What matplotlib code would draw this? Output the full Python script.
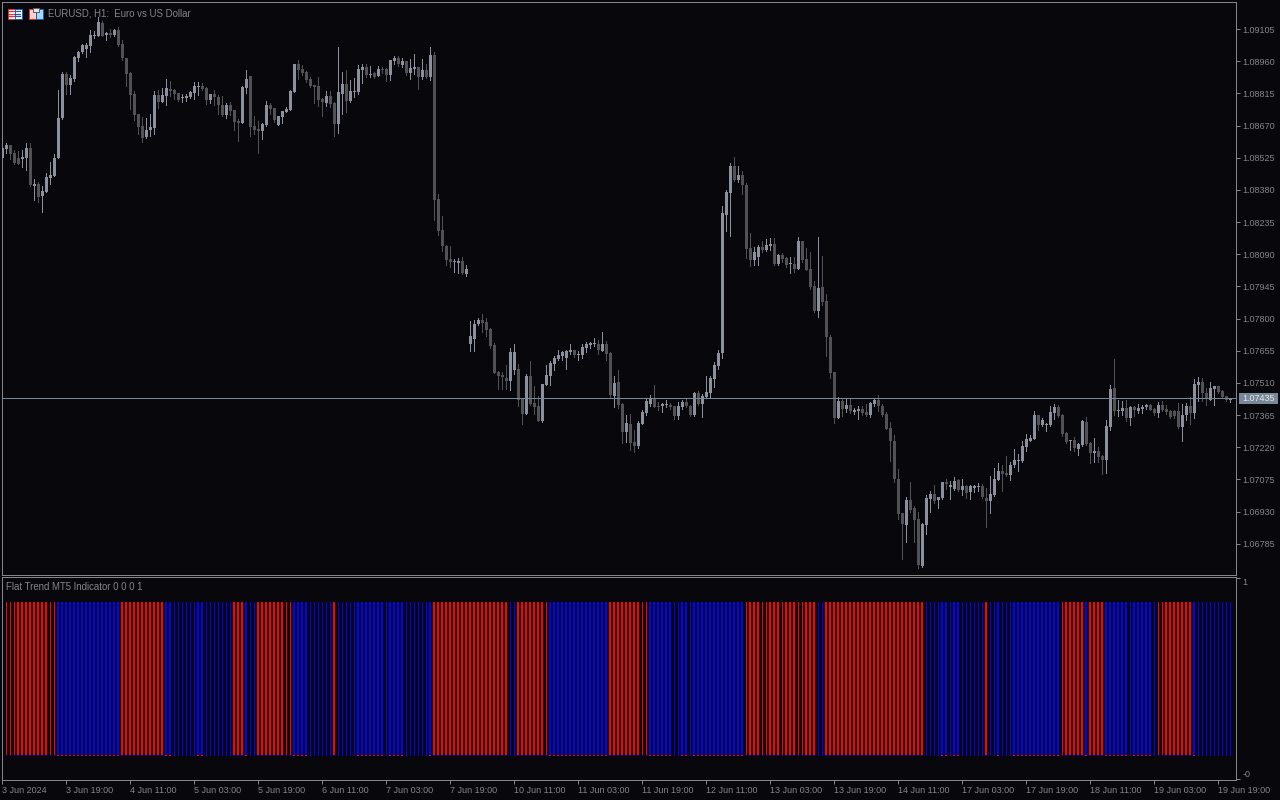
import numpy as np
import matplotlib
matplotlib.use("Agg")
import matplotlib.pyplot as plt
from matplotlib.patches import Rectangle

plt.rcParams['font.family'] = ['Liberation Sans', 'DejaVu Sans']

# H1 candles, in points above 1.06000
opens = [
    2524, 2564, 2582, 2546, 2524, 2519, 2524, 2569, 2398, 2407,
    2353, 2371, 2434, 2443, 2524, 2704, 2902, 2852, 2880, 2974,
    3001, 3014, 3028, 3073, 3073, 3132, 3080, 3085, 3078, 3100,
    3037, 2974, 2906, 2812, 2722, 2668, 2618, 2650, 2659, 2808,
    2776, 2803, 2834, 2830, 2816, 2794, 2794, 2798, 2816, 2844,
    2848, 2839, 2785, 2812, 2798, 2762, 2718, 2762, 2740, 2690,
    2682, 2839, 2893, 2668, 2654, 2646, 2672, 2762, 2749, 2672,
    2708, 2731, 2740, 2821, 2947, 2924, 2911, 2880, 2852, 2848,
    2788, 2770, 2802, 2770, 2676, 2811, 2856, 2780, 2820, 2820,
    2919, 2932, 2896, 2906, 2892, 2924, 2924, 2896, 2960, 2973,
    2942, 2960, 2906, 2924, 2932, 2888, 2919, 2888, 2986, 2338,
    2199, 2127, 2068, 2055, 2050, 2060, 2001, 1686, 1708, 1776,
    1794, 1785, 1754, 1682, 1560, 1546, 1533, 1520, 1569, 1574,
    1438, 1371, 1542, 1420, 1407, 1340, 1502, 1542, 1596, 1618,
    1632, 1623, 1650, 1659, 1636, 1636, 1668, 1682, 1686, 1686,
    1654, 1686, 1646, 1452, 1515, 1416, 1290, 1326, 1245, 1224,
    1325, 1374, 1415, 1438, 1406, 1406, 1410, 1410, 1406, 1361,
    1402, 1424, 1406, 1366, 1464, 1415, 1446, 1464, 1528, 1586,
    1644, 2266, 2364, 2486, 2423, 2446, 2400, 2117, 2063, 2076,
    2122, 2108, 2126, 2135, 2045, 2086, 2072, 2045, 2045, 2022,
    2148, 2068, 2022, 1946, 1834, 1942, 1878, 1716, 1559, 1352,
    1428, 1392, 1410, 1379, 1384, 1392, 1379, 1366, 1415, 1433,
    1406, 1370, 1307, 1248, 1078, 924, 870, 983, 947, 898,
    686, 870, 988, 1010, 983, 992, 1064, 1042, 1032, 1073,
    1027, 1045, 1018, 1036, 1040, 1045, 991, 978, 1004, 1072,
    1112, 1104, 1094, 1140, 1158, 1158, 1220, 1248, 1256, 1364,
    1320, 1320, 1320, 1374, 1400, 1364, 1284, 1248, 1252, 1212,
    1230, 1333, 1238, 1194, 1202, 1180, 1162, 1310, 1486, 1382,
    1382, 1396, 1351, 1400, 1382, 1392, 1400, 1410, 1392, 1374,
    1410, 1392, 1382, 1382, 1382, 1310, 1364, 1405, 1374, 1500,
    1513, 1464, 1432, 1482, 1495, 1472, 1450, 1432,
]
highs = [
    2568, 2590, 2582, 2561, 2555, 2561, 2590, 2590, 2430, 2414,
    2398, 2456, 2504, 2542, 2830, 2911, 2911, 2898, 2983, 3006,
    3037, 3040, 3100, 3096, 3158, 3140, 3091, 3104, 3104, 3112,
    3055, 2974, 2911, 2826, 2722, 2708, 2704, 2722, 2826, 2830,
    2839, 2880, 2870, 2834, 2816, 2812, 2812, 2826, 2866, 2866,
    2862, 2844, 2812, 2830, 2808, 2803, 2772, 2776, 2740, 2700,
    2848, 2920, 2893, 2713, 2690, 2682, 2780, 2772, 2749, 2713,
    2736, 2754, 2830, 2947, 2965, 2942, 2916, 2888, 2852, 2888,
    2793, 2824, 2824, 2775, 3022, 2910, 2919, 2874, 2883, 2942,
    2946, 2946, 2937, 2910, 2937, 2932, 2928, 2964, 2982, 2982,
    2973, 2960, 2968, 2991, 2932, 2968, 2946, 3022, 3000, 2361,
    2262, 2132, 2127, 2068, 2073, 2078, 2042, 1790, 1794, 1803,
    1821, 1803, 1758, 1690, 1564, 1560, 1592, 1668, 1686, 1596,
    1443, 1551, 1610, 1497, 1452, 1506, 1592, 1610, 1632, 1659,
    1654, 1659, 1686, 1659, 1654, 1686, 1695, 1695, 1713, 1704,
    1740, 1700, 1650, 1542, 1569, 1420, 1366, 1371, 1299, 1340,
    1388, 1438, 1456, 1500, 1424, 1420, 1433, 1420, 1406, 1424,
    1433, 1438, 1410, 1469, 1474, 1460, 1541, 1541, 1604, 1658,
    2306, 2378, 2500, 2526, 2486, 2464, 2410, 2184, 2122, 2130,
    2148, 2158, 2162, 2162, 2090, 2094, 2076, 2076, 2076, 2166,
    2148, 2117, 2099, 1968, 2166, 2081, 1910, 1726, 1559, 1446,
    1438, 1438, 1438, 1397, 1406, 1406, 1415, 1424, 1442, 1456,
    1415, 1379, 1334, 1276, 1122, 924, 996, 1064, 956, 929,
    880, 1006, 1024, 1050, 996, 1064, 1078, 1068, 1086, 1078,
    1076, 1050, 1050, 1050, 1058, 1054, 1036, 1090, 1126, 1148,
    1140, 1180, 1153, 1212, 1189, 1248, 1279, 1274, 1382, 1364,
    1351, 1328, 1405, 1414, 1410, 1369, 1288, 1252, 1266, 1238,
    1342, 1356, 1243, 1261, 1220, 1184, 1342, 1500, 1616, 1432,
    1428, 1432, 1405, 1405, 1414, 1410, 1414, 1414, 1396, 1423,
    1428, 1410, 1387, 1387, 1418, 1414, 1418, 1446, 1526, 1536,
    1531, 1486, 1513, 1495, 1495, 1477, 1450, 1441,
]
lows = [
    2524, 2548, 2519, 2498, 2498, 2485, 2470, 2399, 2335, 2326,
    2281, 2371, 2407, 2443, 2524, 2701, 2812, 2812, 2870, 2960,
    2998, 2978, 3002, 3064, 3073, 3073, 3055, 3068, 3072, 3028,
    2965, 2848, 2744, 2695, 2632, 2596, 2614, 2623, 2632, 2749,
    2776, 2762, 2803, 2790, 2780, 2776, 2780, 2794, 2790, 2808,
    2830, 2767, 2772, 2762, 2722, 2713, 2704, 2718, 2650, 2600,
    2682, 2816, 2623, 2632, 2546, 2610, 2668, 2722, 2686, 2672,
    2682, 2731, 2740, 2821, 2880, 2898, 2866, 2844, 2772, 2758,
    2712, 2757, 2752, 2622, 2636, 2721, 2730, 2775, 2798, 2811,
    2860, 2888, 2888, 2883, 2892, 2906, 2870, 2874, 2946, 2937,
    2932, 2896, 2878, 2901, 2834, 2878, 2883, 2874, 2244, 2176,
    2104, 2042, 2032, 2010, 2006, 2001, 1992, 1654, 1654, 1772,
    1740, 1722, 1668, 1556, 1484, 1484, 1484, 1479, 1551, 1407,
    1326, 1371, 1412, 1371, 1340, 1335, 1502, 1502, 1569, 1614,
    1614, 1574, 1641, 1627, 1614, 1623, 1650, 1668, 1677, 1641,
    1654, 1614, 1443, 1402, 1398, 1240, 1245, 1209, 1200, 1218,
    1325, 1366, 1406, 1402, 1388, 1379, 1402, 1392, 1348, 1348,
    1392, 1402, 1361, 1361, 1410, 1356, 1446, 1442, 1492, 1572,
    1622, 2194, 2171, 2418, 2414, 2360, 2072, 2036, 2040, 2040,
    2099, 2104, 2108, 2040, 2040, 2054, 2032, 2004, 2009, 2022,
    2054, 2018, 1932, 1829, 1806, 1860, 1631, 1532, 1330, 1352,
    1361, 1379, 1374, 1370, 1348, 1366, 1361, 1356, 1406, 1384,
    1361, 1302, 1158, 1064, 898, 718, 794, 929, 794, 677,
    682, 830, 929, 970, 947, 988, 1032, 988, 1028, 1024,
    1004, 991, 986, 1018, 1022, 991, 860, 924, 1000, 1072,
    1022, 1090, 1072, 1130, 1112, 1153, 1202, 1248, 1256, 1297,
    1315, 1292, 1315, 1346, 1356, 1270, 1238, 1207, 1202, 1184,
    1225, 1230, 1148, 1153, 1153, 1099, 1104, 1297, 1364, 1360,
    1364, 1338, 1320, 1360, 1374, 1374, 1392, 1387, 1364, 1356,
    1382, 1369, 1351, 1351, 1306, 1248, 1342, 1324, 1351, 1428,
    1428, 1410, 1432, 1410, 1464, 1441, 1428, 1423,
]
closes = [
    2568, 2582, 2542, 2502, 2498, 2528, 2569, 2402, 2407, 2348,
    2376, 2438, 2448, 2524, 2704, 2902, 2852, 2884, 2980, 3001,
    3032, 3032, 3078, 3078, 3136, 3073, 3085, 3080, 3100, 3032,
    2974, 2902, 2808, 2718, 2664, 2614, 2650, 2664, 2808, 2776,
    2808, 2839, 2826, 2812, 2785, 2798, 2803, 2821, 2848, 2848,
    2834, 2785, 2812, 2798, 2762, 2718, 2762, 2736, 2686, 2682,
    2844, 2880, 2664, 2650, 2646, 2677, 2762, 2744, 2695, 2713,
    2736, 2744, 2826, 2947, 2920, 2906, 2875, 2848, 2844, 2785,
    2775, 2802, 2766, 2676, 2820, 2856, 2780, 2824, 2824, 2924,
    2932, 2896, 2901, 2888, 2924, 2919, 2896, 2964, 2973, 2946,
    2960, 2906, 2928, 2932, 2888, 2919, 2888, 2986, 2334, 2194,
    2127, 2064, 2055, 2060, 2060, 2006, 2024, 1722, 1776, 1794,
    1780, 1749, 1677, 1556, 1542, 1538, 1520, 1650, 1650, 1434,
    1371, 1542, 1416, 1402, 1340, 1506, 1546, 1600, 1623, 1636,
    1650, 1654, 1659, 1636, 1641, 1672, 1686, 1690, 1690, 1659,
    1686, 1641, 1456, 1510, 1412, 1290, 1330, 1240, 1227, 1330,
    1379, 1428, 1438, 1402, 1402, 1415, 1415, 1402, 1361, 1406,
    1424, 1406, 1366, 1464, 1415, 1451, 1469, 1532, 1590, 1644,
    2274, 2369, 2486, 2423, 2446, 2400, 2112, 2063, 2099, 2122,
    2108, 2130, 2135, 2045, 2086, 2068, 2040, 2050, 2022, 2148,
    2063, 2018, 1942, 1834, 1937, 1874, 1716, 1554, 1352, 1428,
    1392, 1410, 1384, 1388, 1392, 1374, 1366, 1420, 1433, 1406,
    1366, 1302, 1248, 1078, 920, 875, 983, 938, 893, 690,
    875, 992, 1010, 978, 996, 1064, 1055, 1050, 1068, 1028,
    1045, 1014, 1045, 1045, 1045, 995, 978, 1009, 1076, 1112,
    1099, 1094, 1140, 1162, 1162, 1225, 1256, 1261, 1364, 1320,
    1342, 1324, 1378, 1400, 1360, 1279, 1243, 1252, 1216, 1234,
    1338, 1234, 1194, 1202, 1176, 1162, 1315, 1482, 1382, 1387,
    1396, 1351, 1400, 1387, 1396, 1400, 1410, 1387, 1374, 1410,
    1387, 1378, 1356, 1360, 1310, 1364, 1405, 1374, 1504, 1513,
    1464, 1436, 1486, 1495, 1468, 1446, 1432, 1436,
]

# Price scale and time scale labels
price_ticks = [1.09105, 1.08960, 1.08815, 1.08670, 1.08525, 1.08380, 1.08235, 1.08090, 1.07945,
               1.07800, 1.07655, 1.07510, 1.07365, 1.07220, 1.07075, 1.06930, 1.06785]
time_labels = ["3 Jun 2024", "3 Jun 19:00", "4 Jun 11:00", "5 Jun 03:00", "5 Jun 19:00",
               "6 Jun 11:00", "7 Jun 03:00", "7 Jun 19:00", "10 Jun 11:00", "11 Jun 03:00",
               "11 Jun 19:00", "12 Jun 11:00", "13 Jun 03:00", "13 Jun 19:00", "14 Jun 11:00",
               "17 Jun 03:00", "17 Jun 19:00", "18 Jun 11:00", "19 Jun 03:00", "19 Jun 19:00"]
bid_level = 1.07440
bid_label = "1.07435"

# Indicator histogram: colour runs, from the second bar on
run_colors = ["r", "b", "r", "b", "r", "b", "r", "b", "r", "b", "r", "b", "r", "b",
              "r", "b", "r", "b", "r", "b", "r", "b", "r", "b", "r", "b", "r", "b"]
run_lengths = [13, 16, 11, 17, 3, 3, 9, 10, 1, 24, 19, 2, 8, 15,
               10, 24, 18, 2, 25, 15, 1, 18, 6, 1, 4, 13, 9, 10]

# Bars the terminal draws one pixel wide rather than two
thin_bars = [(1, 3), (12, 13), (43, 48), (51, 57), (62, 63), (71, 72), (77, 82), (84, 88), (96, 96),
             (101, 106), (127, 128), (136, 136), (160, 161), (168, 169), (172, 172), (186, 186),
             (190, 191), (195, 195), (199, 200), (204, 205), (231, 234), (237, 237), (240, 245),
             (247, 248), (250, 252), (265, 265), (282, 282), (288, 290), (299, 307)]

BG = "#08080c"
GRID = "#85858a"
TEXT = "#85858a"
LIGHT = "#8c8f9c"
DARK = "#525256"
BID = "#778899"
W, H = 1280, 800


def panel(left, top, right, bottom):
    return [left / W, 1 - bottom / H, (right - left) / W, (bottom - top) / H]


fig = plt.figure(figsize=(12.8, 8), dpi=100, facecolor=BG)

# Candles
ax = fig.add_axes(panel(2.4, 1.6, 1236.4, 574.6), facecolor=BG)
o = 1.06 + np.array(opens) / 1e5
h = 1.06 + np.array(highs) / 1e5
l = 1.06 + np.array(lows) / 1e5
c = 1.06 + np.array(closes) / 1e5
x = np.arange(len(o))
colors = [LIGHT if c[i] >= o[i] else DARK for i in x]
ax.vlines(x, l, h, colors=colors, linewidth=0.72, antialiased=False, zorder=2)
ax.bar(x, np.abs(c - o), bottom=np.minimum(o, c), width=0.75, color=colors, linewidth=0,
       antialiased=False, zorder=3)
ax.axhline(bid_level, color=BID, linewidth=0.72, zorder=4)
ax.set_xlim(0, 308.5)
ax.set_ylim(1.06646, 1.092285)
ax.set_xticks([])
ax.yaxis.tick_right()
ax.set_yticks(price_ticks)
ax.set_yticklabels([f"{p:.5f}" for p in price_ticks])
ax.tick_params(axis="y", colors=GRID, labelcolor=TEXT, length=3, width=0.72, pad=1.2, labelsize=6.5)
for s in ax.spines.values():
    s.set_color(GRID)
    s.set_linewidth(0.72)

# Indicator histogram
ax2 = fig.add_axes(panel(2.4, 576.6, 1236.4, 779.6), facecolor=BG)
trend = np.repeat(run_colors, run_lengths)
trend_x = np.arange(1, len(trend) + 1)
widths = np.full(len(trend), 0.5)
for a, b in thin_bars:
    widths[(trend_x >= a) & (trend_x <= b)] = 0.25
bar_colors = ["#ff0000" if t == "r" else "#0000ff" for t in trend]
ax2.bar(trend_x, np.ones(len(trend)), width=widths, color=bar_colors, linewidth=0, antialiased=False)
# One pixel row of the other colour sits under the wide bars
base_colors = ["#0000ff" if t == "r" and w > 0.3 else "#ff0000" if w > 0.3 else "#0000ff"
               for t, w in zip(trend, widths)]
ax2.bar(trend_x, np.full(len(trend), 0.0065), bottom=-0.0065, width=widths, color=base_colors,
        linewidth=0, antialiased=False)
ax2.set_xlim(0, 308.5)
ax2.set_ylim(-0.161, 1.166)
ax2.yaxis.tick_right()
ax2.set_yticks([-0.155, 1.155])
ax2.set_yticklabels(["-0", "1"])
ax2.get_yticklabels()[0].set_va("bottom")
ax2.get_yticklabels()[1].set_va("top")
ax2.tick_params(axis="y", colors=GRID, labelcolor=TEXT, length=3, width=0.72, pad=1.2, labelsize=6.5)
ax2.set_xticks(np.arange(len(time_labels)) * 16)
ax2.set_xticklabels(time_labels, ha="left")
ax2.tick_params(axis="x", colors=GRID, labelcolor=TEXT, length=3, width=0.72, pad=1.5, labelsize=6.5)
for s in ax2.spines.values():
    s.set_color(GRID)
    s.set_linewidth(0.72)

# Overlay in pixel coordinates for the captions, icons and bid label
top = fig.add_axes([0, 0, 1, 1], facecolor="none")
top.set_xlim(0, W)
top.set_ylim(H, 0)
top.axis("off")
top.text(48, 13.5, "EURUSD, H1:  Euro vs US Dollar", color=TEXT, fontsize=6.9, va="center", ha="left")
top.text(5.5, 586.5, "Flat Trend MT5 Indicator 0 0 0 1", color=TEXT, fontsize=6.9, va="center", ha="left")

top.add_patch(Rectangle((1239, 393), 39, 11, facecolor=BID, edgecolor="none"))
top.text(1258.5, 398.5, bid_label, color="#e6e6e6", fontsize=6.5, va="center", ha="center")

# Table icon
top.add_patch(Rectangle((7.5, 8.5), 7, 10, facecolor="#ffffff", edgecolor="#e03030", linewidth=0.72))
top.add_patch(Rectangle((14.5, 8.5), 7, 10, facecolor="#ffffff", edgecolor="#1a5fb4", linewidth=0.72))
for yy in (11, 13.5, 16):
    top.plot([9, 14], [yy, yy], color="#e03030", linewidth=0.9)
    top.plot([15, 20], [yy, yy], color="#1a5fb4", linewidth=0.9)
# Save icon
top.add_patch(Rectangle((28.5, 8.5), 7, 10, facecolor="#ffd0d0", edgecolor="#e03030", linewidth=0.72))
top.add_patch(Rectangle((35.5, 8.5), 7, 10, facecolor="#a8d8f8", edgecolor="#1a5fb4", linewidth=0.72))
top.add_patch(Rectangle((32.5, 7.5), 6, 4, facecolor="#e8e8e8", edgecolor="#606060", linewidth=0.72))

fig.savefig("out.png", dpi=100, facecolor=BG)
